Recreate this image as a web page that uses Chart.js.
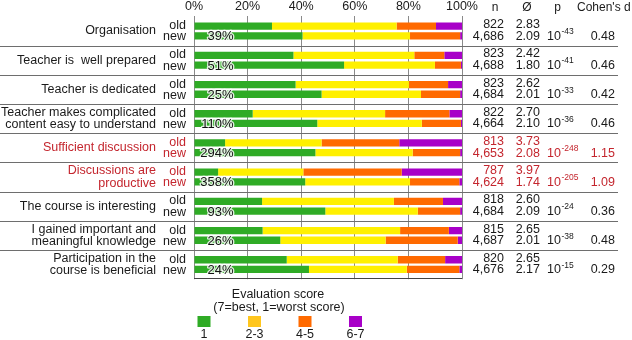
<!DOCTYPE html>
<html>
<head>
<meta charset="utf-8">
<script src="https://cdn.jsdelivr.net/npm/chart.js@4/dist/chart.umd.min.js"></script>
<style>
  html, body { margin: 0; padding: 0; background: #fff; }
  #wrap { width: 632px; height: 340px; }
</style>
</head>
<body>
<div id="wrap"><canvas id="chart" width="632" height="340"></canvas></div>
<script>
// categories (multi-line labels as arrays)
const categories = [
    ['Organisation'],
    ['Teacher is  well prepared'],
    ['Teacher is dedicated'],
    ['Teacher makes complicated', 'content easy to understand'],
    ['Sufficient discussion'],
    ['Discussions are', 'productive'],
    ['The course is interesting'],
    ['I gained important and', 'meaningful knowledge'],
    ['Participation in the', 'course is beneficial']
];
const redRows = [4, 5];

// share of answers in % per score band, old survey
const old1 = [29.1, 37.1, 37.9, 21.9, 11.6, 9.0, 25.4, 25.6, 34.6];
const old23 = [46.5, 45.1, 42.3, 49.4, 36.0, 31.8, 49.2, 51.3, 41.4];
const old45 = [14.7, 11.2, 14.6, 24.0, 29.0, 36.7, 18.3, 18.2, 17.7];
const old67 = [9.7, 6.6, 5.2, 4.7, 23.4, 22.5, 7.1, 4.9, 6.3];

// share of answers in % per score band, new survey
const new1 = [40.5, 56.0, 47.6, 46.0, 45.3, 41.5, 49.0, 32.2, 42.9];
const new23 = [40.1, 33.9, 37.1, 39.0, 36.3, 39.1, 34.5, 39.3, 36.5];
const new45 = [18.7, 9.7, 14.6, 14.6, 17.7, 18.4, 15.8, 26.9, 19.6];
const new67 = [0.7, 0.4, 0.7, 0.4, 0.7, 1.0, 0.7, 1.6, 1.0];

// change of the "1" share
const pctLabels = ['39%', '51%', '25%', '110%', '294%', '358%', '93%', '26%', '24%'];

// table on the right
const nOld = ['822', '823', '823', '822', '813', '787', '818', '815', '820'];
const nNew = ['4,686', '4,688', '4,684', '4,664', '4,653', '4,624', '4,684', '4,687', '4,676'];
const meanOld = ['2.83', '2.42', '2.62', '2.70', '3.73', '3.97', '2.60', '2.65', '2.65'];
const meanNew = ['2.09', '1.80', '2.01', '2.10', '2.08', '1.74', '2.09', '2.01', '2.17'];
const pExp = ['-43', '-41', '-33', '-36', '-248', '-205', '-24', '-38', '-15'];
const cohenD = ['0.48', '0.46', '0.42', '0.46', '1.15', '1.09', '0.36', '0.48', '0.29'];

const xTicks = [0, 20, 40, 60, 80, 100];
const scoreBands = ['1', '2-3', '4-5', '6-7'];

const barColors = ['#2fab25', '#fff000', '#ff6a00', '#a800c8'];
const legendColors = ['#2fab25', '#ffc61e', '#ff6a00', '#a800c8'];
const RED = '#c4262e';
const TEXT = '#1a1a1a';
const FONT = '"Liberation Sans", Arial, Helvetica, sans-serif';

Chart.defaults.font.family = FONT;
Chart.defaults.color = TEXT;

function ds(label, data, color, stack) {
    return {
        label: label,
        data: data,
        backgroundColor: color,
        borderWidth: 0,
        stack: stack,
        barPercentage: 0.75,
        categoryPercentage: 0.664
    };
}

const tablePlugin = {
    id: 'tablePlugin',
    afterDraw(chart) {
        const ctx = chart.ctx;
        const area = chart.chartArea;
        const yScale = chart.scales.y;
        const oldMeta = chart.getDatasetMeta(0);
        const newMeta = chart.getDatasetMeta(4);
        ctx.save();

        // separators between groups
        ctx.strokeStyle = '#6e6e6e';
        ctx.lineWidth = 1;
        for (let i = 0; i < categories.length - 1; i++) {
            const y = Math.round((yScale.getPixelForValue(i) + yScale.getPixelForValue(i + 1)) / 2) + 0.5;
            ctx.beginPath();
            ctx.moveTo(0, y);
            ctx.lineTo(618, y);
            ctx.stroke();
        }
        // bottom border of plot
        ctx.strokeStyle = '#444';
        ctx.beginPath();
        ctx.moveTo(area.left, Math.round(area.bottom) - 0.5);
        ctx.lineTo(area.right, Math.round(area.bottom) - 0.5);
        ctx.stroke();

        // header
        ctx.fillStyle = TEXT;
        ctx.font = '12px ' + FONT;
        ctx.textBaseline = 'middle';
        ctx.textAlign = 'center';
        ctx.fillText('n', 495, 8);
        ctx.fillText('Ø', 527, 8);
        ctx.fillText('p', 557.5, 8);
        ctx.textAlign = 'left';
        ctx.fillText("Cohen's d", 577, 8);

        for (let i = 0; i < categories.length; i++) {
            const yo = oldMeta.data[i].y;
            const yn = newMeta.data[i].y;
            const col = redRows.includes(i) ? RED : TEXT;
            ctx.fillStyle = col;

            // old/new labels
            ctx.font = '12.5px ' + FONT;
            ctx.textAlign = 'right';
            ctx.fillText('old', 186, yo - 0.5);
            ctx.fillText('new', 186, yn + 1);

            // table
            ctx.font = '12.5px ' + FONT;
            ctx.textAlign = 'right';
            ctx.fillText(nOld[i], 504, yo - 1.5);
            ctx.fillText(meanOld[i], 540, yo - 1.5);
            ctx.fillText(nNew[i], 504, yn + 0.5);
            ctx.fillText(meanNew[i], 540, yn + 0.5);
            ctx.fillText(cohenD[i], 615, yn + 0.5);
            ctx.textAlign = 'left';
            ctx.fillText('10', 547, yn + 0.5);
            const w10 = ctx.measureText('10').width;
            ctx.font = '8.5px ' + FONT;
            ctx.fillText(pExp[i], 547 + w10 + 0.5, yn - 4);

            // change label inside new bar
            ctx.font = '13px ' + FONT;
            ctx.textAlign = 'right';
            ctx.lineJoin = 'round';
            ctx.lineWidth = 2.5;
            ctx.strokeStyle = 'rgba(255,255,255,0.85)';
            ctx.strokeText(pctLabels[i], area.left + 39.5, yn + 1);
            ctx.fillStyle = '#111';
            ctx.fillText(pctLabels[i], area.left + 39.5, yn + 1);
        }

        // legend
        ctx.fillStyle = TEXT;
        ctx.font = '12.5px ' + FONT;
        ctx.textAlign = 'center';
        ctx.fillText('Evaluation score', 278, 295);
        ctx.fillText('(7=best, 1=worst score)', 279, 308);
        const lx = [204, 254.5, 305, 355.5];
        for (let k = 0; k < scoreBands.length; k++) {
            ctx.fillStyle = legendColors[k];
            ctx.fillRect(lx[k] - 6.5, 316, 13, 11);
            ctx.fillStyle = TEXT;
            ctx.fillText(scoreBands[k], lx[k], 334.5);
        }
        ctx.restore();
    }
};

new Chart(document.getElementById('chart').getContext('2d'), {
    type: 'bar',
    data: {
        labels: categories,
        datasets: [
            ds('old 1', old1, barColors[0], 'old'),
            ds('old 2-3', old23, barColors[1], 'old'),
            ds('old 4-5', old45, barColors[2], 'old'),
            ds('old 6-7', old67, barColors[3], 'old'),
            ds('new 1', new1, barColors[0], 'new'),
            ds('new 2-3', new23, barColors[1], 'new'),
            ds('new 4-5', new45, barColors[2], 'new'),
            ds('new 6-7', new67, barColors[3], 'new')
        ]
    },
    options: {
        indexAxis: 'y',
        responsive: false,
        animation: false,
        layout: { padding: { left: 0, right: 170, top: 0, bottom: 60.8 } },
        plugins: {
            legend: { display: false },
            tooltip: { enabled: false }
        },
        scales: {
            x: {
                position: 'top',
                stacked: true,
                min: 0,
                max: 100,
                afterBuildTicks: function(scale) {
                    scale.ticks = xTicks.map(v => ({ value: v }));
                },
                afterFit: function(scale) {
                    scale.height = 16.4;
                    scale.paddingLeft = 0;
                    scale.paddingRight = 0;
                },
                ticks: {
                    callback: v => v + '%',
                    font: { size: 12.5 },
                    color: TEXT,
                    padding: 2,
                    maxRotation: 0,
                    autoSkip: false
                },
                grid: { color: '#8a8a8a', drawTicks: false, lineWidth: 1 },
                border: { display: false }
            },
            y: {
                stacked: true,
                afterFit: function(scale) {
                    scale.width = 194;
                    scale.paddingTop = 0;
                    scale.paddingBottom = 0;
                },
                ticks: {
                    font: { size: 12.5, lineHeight: 1.0 },
                    color: ctx => redRows.includes(ctx.index) ? RED : TEXT,
                    padding: 38,
                    autoSkip: false
                },
                grid: { display: false, drawTicks: false },
                border: { display: false }
            }
        }
    },
    plugins: [tablePlugin]
});
</script>
</body>
</html>
